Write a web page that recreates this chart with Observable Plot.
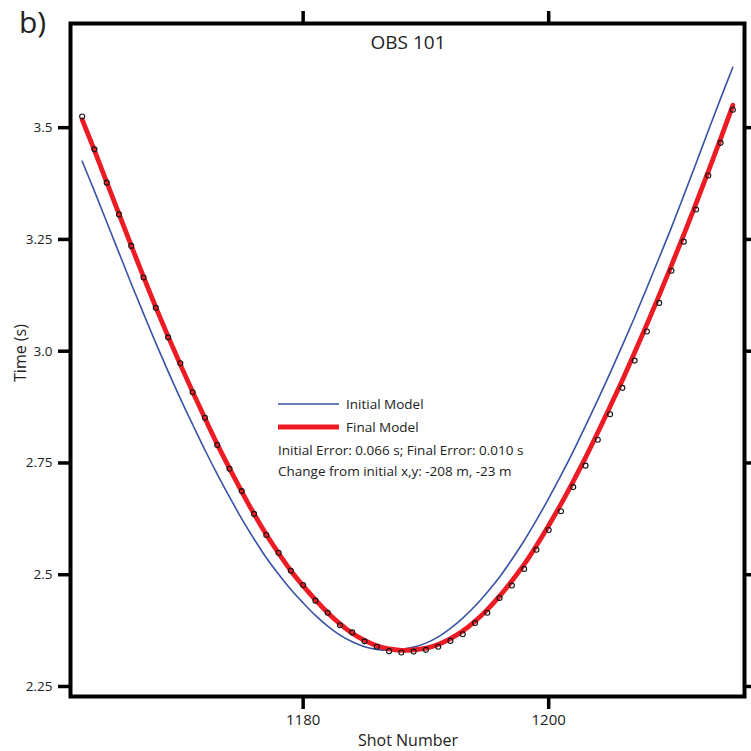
<!DOCTYPE html>
<html>
<head>
<meta charset="utf-8">
<script src="https://cdn.jsdelivr.net/npm/d3@7"></script>
<script src="https://cdn.jsdelivr.net/npm/@observablehq/plot@0.6"></script>
<style>
  html, body { margin: 0; padding: 0; background: #fff; }
  #chart svg { display: block; }
</style>
</head>
<body>
<div id="chart"></div>
<script>
// Shot numbers
const shots = [1162,1163,1164,1165,1166,1167,1168,1169,1170,1171,1172,1173,1174,1175,1176,1177,1178,1179,1180,1181,1182,1183,1184,1185,1186,1187,1188,1189,1190,1191,1192,1193,1194,1195,1196,1197,1198,1199,1200,1201,1202,1203,1204,1205,1206,1207,1208,1209,1210,1211,1212,1213,1214,1215];

// Observed travel times (s)
const observed = [3.525,3.4515,3.377,3.306,3.2355,3.165,3.097,3.031,2.973,2.908,2.851,2.790,2.737,2.687,2.636,2.589,2.549,2.509,2.477,2.442,2.415,2.387,2.371,2.351,2.339,2.329,2.326,2.328,2.332,2.339,2.352,2.367,2.392,2.415,2.448,2.476,2.513,2.556,2.600,2.642,2.696,2.744,2.802,2.859,2.918,2.979,3.044,3.108,3.180,3.245,3.317,3.393,3.466,3.540];

// Final model (red)
const finalModel = [3.518,3.449,3.378,3.307,3.236,3.166,3.098,3.033,2.970,2.909,2.850,2.792,2.738,2.686,2.636,2.590,2.548,2.509,2.475,2.444,2.415,2.390,2.369,2.353,2.341,2.334,2.331,2.332,2.336,2.344,2.357,2.374,2.396,2.422,2.452,2.486,2.523,2.565,2.610,2.658,2.709,2.762,2.818,2.876,2.935,2.997,3.060,3.125,3.192,3.260,3.330,3.402,3.475,3.550];

// Initial model (blue)
const initialModel = [3.425,3.358,3.289,3.220,3.151,3.084,3.018,2.955,2.894,2.836,2.779,2.725,2.674,2.625,2.580,2.538,2.501,2.467,2.437,2.409,2.385,2.365,2.350,2.339,2.333,2.331,2.333,2.338,2.347,2.361,2.380,2.403,2.430,2.461,2.495,2.534,2.576,2.622,2.671,2.722,2.776,2.833,2.891,2.951,3.013,3.076,3.142,3.209,3.277,3.348,3.420,3.493,3.565,3.635];

const xTicks = [1180, 1200];
const xTickLabels = ["1180", "1200"];
const yTicks = [2.25, 2.5, 2.75, 3.0, 3.25, 3.5];
const yTickLabels = ["2.25", "2.5", "2.75", "3.0", "3.25", "3.5"];

const legendLabels = ["Initial Model", "Final Model"];
const infoLines = ["Initial Error: 0.066 s; Final Error: 0.010 s", "Change from initial x,y: -208 m, -23 m"];
const title = "OBS 101";
const panelLabel = "b)";
const xLabel = "Shot Number";
const yLabel = "Time (s)";

const obsData = shots.map((s, i) => ({shot: s, t: observed[i]}));
const finalData = shots.map((s, i) => ({shot: s, t: finalModel[i]}));
const initData = shots.map((s, i) => ({shot: s, t: initialModel[i]}));

const BLUE = "#3953a4";
const RED = "#ed1c24";
const FONT = "'Open Sans', 'DejaVu Sans', sans-serif";

const svg = Plot.plot({
  width: 751,
  height: 751,
  marginLeft: 70,
  marginRight: 7,
  marginTop: 23,
  marginBottom: 55,
  style: {fontFamily: FONT, background: "#fff", color: "#222", overflow: "visible"},
  x: {domain: [1161.05, 1215.95]},
  y: {domain: [2.2276, 3.733]},
  marks: [
    Plot.line(initData, {x: "shot", y: "t", stroke: BLUE, strokeWidth: 1.6, curve: "catmull-rom"}),
    Plot.line(finalData, {x: "shot", y: "t", stroke: RED, strokeWidth: 4.8, curve: "catmull-rom"}),
    Plot.dot(obsData, {x: "shot", y: "t", r: 2.5, stroke: "#111", strokeWidth: 1.1, fill: "none"}),
    Plot.frame({stroke: "#000", strokeWidth: 4}),
    Plot.axisX({anchor: "bottom", ticks: xTicks, tickFormat: d => xTickLabels[xTicks.indexOf(d)], tickSize: 13, tickPadding: 5, strokeWidth: 3.5, stroke: "#000", fontSize: 15, label: null}),
    Plot.axisX({anchor: "top", ticks: xTicks, tickFormat: () => "", tickSize: 13, strokeWidth: 3.5, stroke: "#000", label: null}),
    Plot.axisY({anchor: "left", ticks: yTicks, tickFormat: d => yTickLabels[yTicks.indexOf(d)], tickSize: 12, tickPadding: 6, strokeWidth: 3.5, stroke: "#000", fontSize: 13.5, label: null}),
    Plot.axisY({anchor: "right", ticks: yTicks, tickFormat: () => "", tickSize: 10, strokeWidth: 3.5, stroke: "#000", label: null})
  ]
});

const s = d3.select(svg);
const g = s.append("g").attr("font-family", FONT).attr("fill", "#222").attr("text-anchor", "start");

// Panel label and title
g.append("text").attr("x", 19).attr("y", 33).attr("font-size", 30).text(panelLabel);
g.append("text").attr("x", 408).attr("y", 49).attr("text-anchor", "middle").attr("font-size", 19).text(title);

// Axis titles
g.append("text").attr("x", 408).attr("y", 746).attr("text-anchor", "middle").attr("font-size", 16).text(xLabel);
g.append("text").attr("transform", "translate(20,353) rotate(-90)").attr("text-anchor", "middle").attr("dy", "0.35em").attr("font-size", 16).text(yLabel);

// Legend
const lg = g.append("g").attr("font-size", 13.5).attr("text-anchor", "start");
lg.append("line").attr("x1", 278).attr("x2", 339).attr("y1", 404).attr("y2", 404).attr("stroke", BLUE).attr("stroke-width", 1.6);
lg.append("line").attr("x1", 278).attr("x2", 339).attr("y1", 427).attr("y2", 427).attr("stroke", RED).attr("stroke-width", 4.8);
lg.append("text").attr("x", 346).attr("y", 404).attr("dy", "0.35em").text(legendLabels[0]);
lg.append("text").attr("x", 346).attr("y", 427).attr("dy", "0.35em").text(legendLabels[1]);
lg.append("text").attr("x", 278).attr("y", 450).attr("dy", "0.35em").text(infoLines[0]);
lg.append("text").attr("x", 278).attr("y", 471).attr("dy", "0.35em").text(infoLines[1]);

document.getElementById("chart").appendChild(svg);
</script>
</body>
</html>
